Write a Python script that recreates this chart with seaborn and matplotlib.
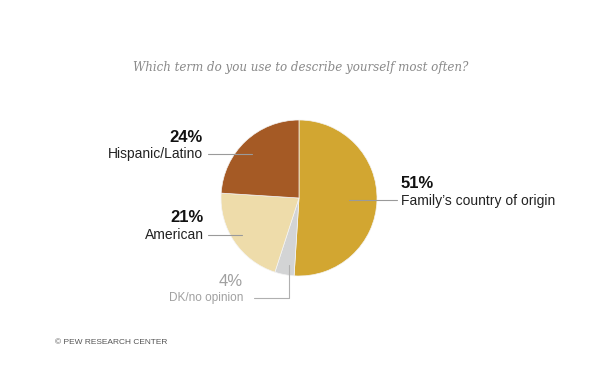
import matplotlib
matplotlib.use("Agg")
import matplotlib.pyplot as plt
import seaborn as sns
from matplotlib.lines import Line2D

sns.set_theme(style="white")
plt.rcParams['font.family'] = ['Liberation Sans', 'DejaVu Sans']

# data
labels = ["Family\u2019s country of origin", "DK/no opinion", "American", "Hispanic/Latino"]
values = [51, 4, 21, 24]
colors = ["#D2A631", "#D3D4D5", "#EEDCAA", "#A55A25"]

W, H = 600, 367
fig = plt.figure(figsize=(W / 100, H / 100), dpi=100)
fig.patch.set_facecolor("white")


def px(x, y):
    # pixel coords (from top-left) -> figure fraction
    return x / W, 1 - y / H


# pie axes: center (299,198), radius 78 px
cx, cy, r = 299, 198, 78
ax = fig.add_axes([(cx - r) / W, (H - cy - r) / H, 2 * r / W, 2 * r / H])
ax.pie(values, colors=colors, startangle=90, counterclock=False,
       wedgeprops=dict(linewidth=0.5, edgecolor="#f4f4f4"))
ax.set_xlim(-1, 1)
ax.set_ylim(-1, 1)
ax.set_axis_off()

# title
fig.text(*px(301, 68), "Which term do you use to describe yourself most often?",
         family="DejaVu Serif", style="italic", fontsize=8.6, color="#8a8a8a",
         ha="center", va="center")


def line(xs, ys, color="#9a9a9a"):
    fig.add_artist(Line2D([x / W for x in xs], [1 - y / H for y in ys],
                          color=color, linewidth=0.8, transform=fig.transFigure))


# labels
fig.text(*px(401, 184), "51%", fontsize=12, weight="bold", color="#111111", va="center", ha="left")
fig.text(*px(401, 201), labels[0], fontsize=10, color="#222222", va="center", ha="left")
line([349, 397], [199.5, 199.5])

fig.text(*px(203, 137), "24%", fontsize=12, weight="bold", color="#111111", va="center", ha="right")
fig.text(*px(203, 154), labels[3], fontsize=10, color="#222222", va="center", ha="right")
line([208, 252], [153.5, 153.5])

fig.text(*px(204, 218), "21%", fontsize=12, weight="bold", color="#111111", va="center", ha="right")
fig.text(*px(204, 235), labels[2], fontsize=10, color="#222222", va="center", ha="right")
line([208, 242], [235, 235])

fig.text(*px(243, 282), "4%", fontsize=12, color="#a0a0a0", va="center", ha="right")
fig.text(*px(243, 298), labels[1], fontsize=8.5, color="#a0a0a0", va="center", ha="right")
line([254, 289, 289], [297.5, 297.5, 265], color="#b0b0b0")

# footer
fig.text(*px(55, 342), "\u00a9 PEW RESEARCH CENTER", fontsize=6, color="#555555",
         va="center", ha="left")

fig.savefig("out.png", dpi=100, facecolor="white")
